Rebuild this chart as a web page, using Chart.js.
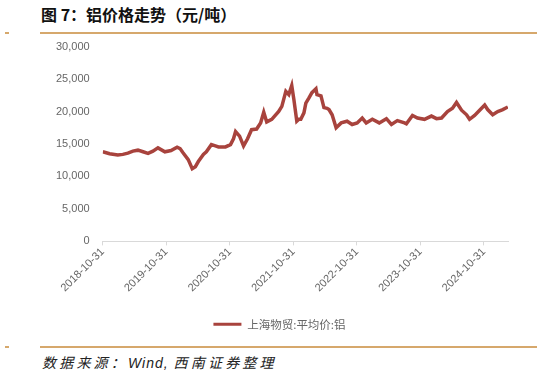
<!DOCTYPE html>
<html>
<head>
<meta charset="utf-8">
<script src="https://cdn.jsdelivr.net/npm/chart.js@4"></script>
<style>
  body { margin: 0; width: 541px; height: 377px; background: #fff; position: relative; overflow: hidden; }
  .title { position: absolute; left: 41px; top: 2px; font: bold 16px "Noto Sans CJK SC", sans-serif; letter-spacing: 0; color: #111; }
  .rule { position: absolute; height: 1.5px; background: #D6A86C; }
  .source { position: absolute; left: 42px; top: 352px; font: italic 14px "Noto Sans CJK SC", sans-serif; letter-spacing: 3.2px; color: #222; }
  .source .en { font-family: Arial, "Liberation Sans", sans-serif; letter-spacing: 1px; }
  #wrap { position: absolute; left: 0; top: 35px; width: 541px; height: 305px; }
</style>
</head>
<body>
<div class="title">图 7：铝价格走势（元/吨）</div>
<div class="rule" style="left:5px;top:32px;width:4px"></div>
<div class="rule" style="left:40px;top:32px;width:497px"></div>
<div id="wrap"><canvas id="priceChart"></canvas></div>
<div class="rule" style="left:5px;top:346px;width:4px"></div>
<div class="rule" style="left:40px;top:346px;width:497px"></div>
<div class="source">数据来源：<span class="en">Wind, </span> 西南证券整理</div>

<script>
const dates = [
    '2018-11-01', '2018-12-10', '2019-01-26', '2019-02-24', '2019-03-25', '2019-04-23',
    '2019-05-22', '2019-06-20', '2019-07-19', '2019-08-16', '2019-09-14', '2019-10-24',
    '2019-11-28', '2020-01-02', '2020-01-19', '2020-02-05', '2020-03-06', '2020-03-29',
    '2020-04-16', '2020-05-03', '2020-06-01', '2020-06-18', '2020-07-17', '2020-08-09',
    '2020-08-27', '2020-10-06', '2020-11-04', '2020-11-21', '2020-12-03', '2020-12-26',
    '2021-01-18', '2021-02-10', '2021-03-05', '2021-04-03', '2021-04-26', '2021-05-14',
    '2021-05-31', '2021-06-29', '2021-08-08', '2021-08-26', '2021-09-18', '2021-10-05',
    '2021-10-22', '2021-11-03', '2021-11-20', '2021-12-02', '2021-12-13', '2021-12-31',
    '2022-01-11', '2022-01-29', '2022-02-15', '2022-03-10', '2022-03-16', '2022-04-08',
    '2022-04-25', '2022-05-13', '2022-05-24', '2022-06-11', '2022-07-04', '2022-08-02',
    '2022-09-05', '2022-10-04', '2022-11-02', '2022-12-01', '2022-12-24', '2023-01-28',
    '2023-03-09', '2023-04-19', '2023-05-18', '2023-06-21', '2023-08-01', '2023-08-12',
    '2023-09-16', '2023-10-15', '2023-11-24', '2024-01-03', '2024-02-01', '2024-03-01',
    '2024-04-04', '2024-05-03', '2024-05-26', '2024-06-24', '2024-07-23', '2024-08-09',
    '2024-09-07', '2024-10-06', '2024-11-04', '2024-11-21', '2024-12-20', '2025-01-18',
    '2025-02-16', '2025-03-17'
];
const prices = [
    13800, 13500, 13300, 13400, 13600, 13900,
    14050, 13800, 13550, 13900, 14400, 13800,
    14000, 14500, 14300, 13650, 12600, 11200,
    11500, 12300, 13400, 13800, 14900, 14700,
    14550, 14550, 14900, 15800, 16900, 16200,
    14700, 15800, 17200, 17300, 18250, 19900,
    18400, 18800, 20000, 20800, 23100, 22600,
    24000, 21900, 18500, 18800, 18800, 19800,
    21300, 22100, 22900, 23500, 22600, 22400,
    20600, 20500, 20300, 19500, 17500, 18250,
    18500, 18000, 18250, 19000, 18250, 18800,
    18250, 18900, 18000, 18600, 18250, 18100,
    19400, 19000, 18800, 19300, 18900, 19000,
    20000, 20500, 21400, 20200, 19500, 18800,
    19400, 20200, 21000, 20300, 19500, 20000,
    20300, 20700
];
const tickLabels = ['2018-10-31', '2019-10-31', '2020-10-31', '2021-10-31', '2022-10-31', '2023-10-31', '2024-10-31'];
const axisEnd = '2025-03-18';
const seriesName = '上海物贸:平均价:铝';

const DAY = 86400000;
const origin = Date.parse(tickLabels[0]);
const toDay = d => (Date.parse(d) - origin) / DAY;

const points = dates.map((d, i) => ({ x: toDay(d), y: prices[i] }));
const tickDays = tickLabels.map(toDay);

const lineColor = '#A8433D';
const axisFont = { family: 'Arial, "Liberation Sans", sans-serif', size: 11 };

new Chart(document.getElementById('priceChart'), {
    type: 'line',
    data: {
        datasets: [{
            label: seriesName,
            data: points,
            borderColor: lineColor,
            backgroundColor: lineColor,
            borderWidth: 3.5,
            pointRadius: 0,
            tension: 0
        }]
    },
    options: {
        responsive: true,
        maintainAspectRatio: false,
        animation: false,
        layout: { padding: { left: 51, right: 33, top: 11, bottom: 0 } },
        plugins: {
            tooltip: { enabled: false },
            legend: {
                position: 'bottom',
                labels: {
                    boxWidth: 28,
                    boxHeight: 3,
                    color: '#666',
                    font: { family: '"Noto Sans CJK SC", sans-serif', size: 11.5 },
                    padding: 8,
                    // flat line sample, no outline
                    generateLabels: chart => Chart.defaults.plugins.legend.labels.generateLabels(chart)
                        .map(item => ({ ...item, lineWidth: 0 }))
                }
            }
        },
        scales: {
            x: {
                type: 'linear',
                min: 0,
                max: toDay(axisEnd),
                afterBuildTicks: axis => { axis.ticks = tickDays.map(v => ({ value: v })); },
                afterFit: axis => { axis.height += 16; },
                grid: { drawOnChartArea: false, drawTicks: true, tickLength: 4, color: '#d9d9d9' },
                border: { color: '#d9d9d9' },
                ticks: {
                    autoSkip: false,
                    maxRotation: 45,
                    minRotation: 45,
                    color: '#666',
                    font: axisFont,
                    padding: 0,
                    callback: (v, i) => tickLabels[i]
                }
            },
            y: {
                min: 0,
                max: 30000,
                grid: { display: false },
                border: { display: false },
                ticks: {
                    stepSize: 5000,
                    color: '#666',
                    font: axisFont,
                    padding: 5,
                    callback: v => v.toLocaleString('en-US')
                }
            }
        }
    }
});
</script>
</body>
</html>
